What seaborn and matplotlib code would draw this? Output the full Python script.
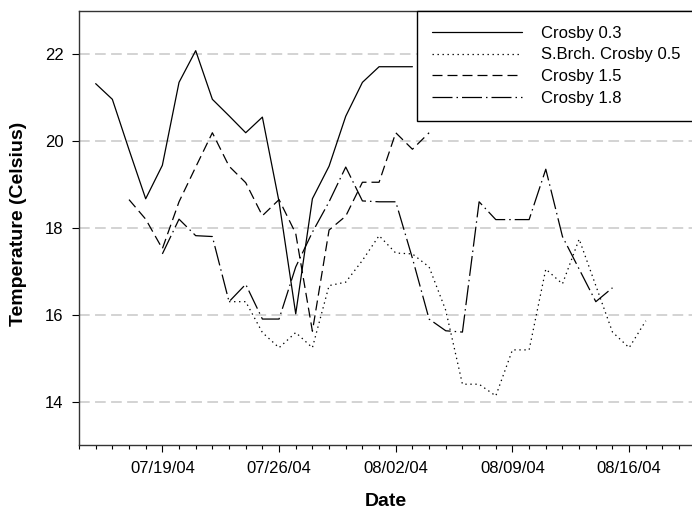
import pandas as pd
import matplotlib
matplotlib.use("Agg")
import matplotlib.pyplot as plt
import matplotlib.dates as mdates
import seaborn as sns

# Daily mean water temperature at four Crosby stations
site_labels = ["Crosby 0.3", "S.Brch. Crosby 0.5", "Crosby 1.5", "Crosby 1.8"]
start_dates = ["2004-07-15", "2004-07-23", "2004-07-17", "2004-07-19"]

crosby_03 = [21.32, 20.96, 19.80, 18.67, 19.44, 21.35, 22.08, 20.96, 20.58, 20.19,
             20.55, 18.60, 16.02, 18.67, 19.42, 20.57, 21.35, 21.71, 21.71, 21.71]
sbrch_05 = [16.30, 16.30, 15.59, 15.24, 15.59, 15.24, 16.67, 16.75, 17.25, 17.82,
            17.42, 17.40, 17.10, 16.10, 14.40, 14.40, 14.13, 15.19, 15.19, 17.05,
            16.71, 17.74, 16.67, 15.60, 15.24, 15.86]
crosby_15 = [18.65, 18.20, 17.52, 18.60, 19.40, 20.19, 19.42, 19.04, 18.28, 18.65,
             17.87, 15.62, 17.95, 18.27, 19.05, 19.05, 20.19, 19.81, 20.19]
crosby_18 = [17.40, 18.20, 17.82, 17.80, 16.30, 16.70, 15.90, 15.90, 17.10, 17.90,
             18.60, 19.40, 18.62, 18.60, 18.60, 17.30, 15.90, 15.63, 15.60, 18.60,
             18.19, 18.19, 18.19, 19.35, 17.80, 17.05, 16.30, 16.62]

y_ticks = [14, 16, 18, 20, 22]

frames = []
for label, start, vals in zip(site_labels, start_dates,
                              [crosby_03, sbrch_05, crosby_15, crosby_18]):
    frames.append(pd.DataFrame({
        "Date": pd.date_range(start, periods=len(vals), freq="D"),
        "Temperature": vals,
        "Site": label,
    }))
df = pd.concat(frames, ignore_index=True)

sns.set_style("ticks")
plt.rcParams["font.family"] = ["Liberation Sans", "DejaVu Sans"]
plt.rcParams["text.color"] = "black"
plt.rcParams["axes.labelcolor"] = "black"
plt.rcParams["xtick.color"] = "black"
plt.rcParams["ytick.color"] = "black"

W, H = 692, 514
fig = plt.figure(figsize=(W / 100, H / 100), dpi=100)
left, right, top, bottom = 79, 692, 10.7, 445
ax = fig.add_axes([left / W, 1 - bottom / H, (right - left) / W, (bottom - top) / H])

lw = 0.9
dash_styles = {
    "Crosby 0.3": "",
    "S.Brch. Crosby 0.5": (1.1, 2.9),
    "Crosby 1.5": (8, 4),
    "Crosby 1.8": (16, 3.2, 1.2, 3.2),
}
sns.lineplot(data=df, x="Date", y="Temperature", style="Site",
             style_order=site_labels, dashes=dash_styles, color="black",
             linewidth=lw, estimator=None, ax=ax, legend="full")

# axis ranges
x0 = pd.Timestamp("2004-07-14")
ax.set_xlim(x0, x0 + pd.Timedelta(days=36.77))
ax.set_ylim(13, 23)

# ticks
ax.xaxis.set_major_locator(mdates.WeekdayLocator(byweekday=mdates.MO))
ax.xaxis.set_minor_locator(mdates.DayLocator())
ax.xaxis.set_major_formatter(mdates.DateFormatter("%m/%d/%y"))
ax.set_yticks(y_ticks)
ax.tick_params(axis="x", which="major", direction="out", length=4.8, width=0.8,
               pad=6.5, labelsize=12, colors="black")
ax.tick_params(axis="x", which="minor", direction="out", length=3, width=0.8,
               colors="black")
ax.tick_params(axis="y", which="major", direction="out", length=5, width=0.8,
               pad=6, labelsize=12, colors="black")

# grid
ax.set_axisbelow(True)
ax.grid(axis="y", color="#c8c8c8", linestyle=(0, (7, 3.5)), linewidth=1.1)
ax.grid(axis="x", visible=False)

# frame
for side in ["left", "bottom", "top"]:
    ax.spines[side].set_color("#333333")
    ax.spines[side].set_linewidth(1.0)
ax.spines["right"].set_visible(False)

# labels
ax.set_xlabel("Date", fontsize=14, fontweight="bold", color="black")
ax.set_ylabel("Temperature (Celsius)", fontsize=14, fontweight="bold", color="black")
ax.xaxis.set_label_coords(0.5, (bottom - 501) / (bottom - top))
ax.xaxis.label.set_va("center")
ax.yaxis.set_label_coords((19 - left) / (right - left), 0.51)
ax.yaxis.label.set_va("center")

# legend
handles, labels = ax.get_legend_handles_labels()
if ax.get_legend() is not None:
    ax.get_legend().remove()
for h in handles:
    h.set_linewidth(lw)
    h.set_color("black")
leg = ax.legend(handles, labels, loc="upper left",
                bbox_to_anchor=(417 / W, 1 - top / H), bbox_transform=fig.transFigure,
                fontsize=12, frameon=True, fancybox=False, framealpha=1,
                edgecolor="black", borderaxespad=0, borderpad=0.9,
                handlelength=5.4, handletextpad=1.15, labelspacing=0.4)
leg.get_frame().set_linewidth(1.0)
for t in leg.get_texts():
    t.set_color("black")

fig.savefig("out.png", dpi=100)
